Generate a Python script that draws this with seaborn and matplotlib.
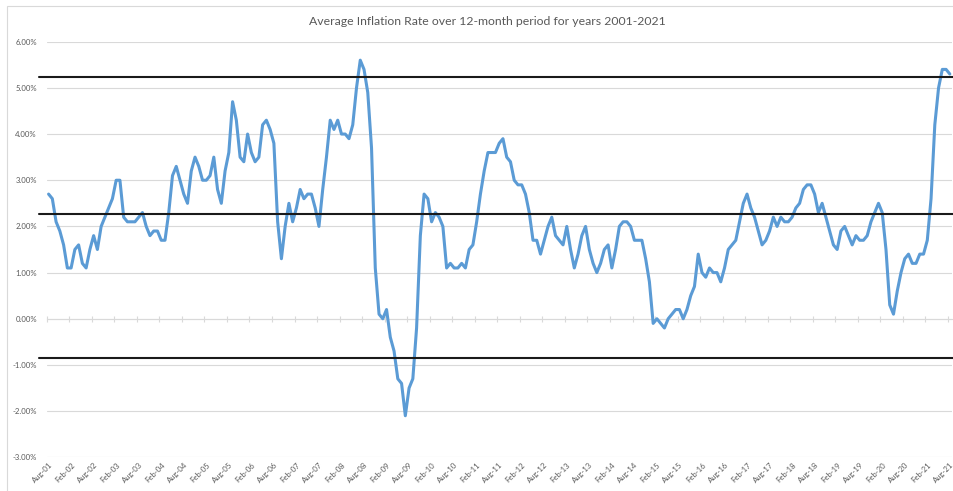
# Average 12-month inflation rate, Aug 2001 - Aug 2021 (Excel-style line chart)

import numpy as np
import pandas as pd
import matplotlib
matplotlib.use("Agg")
import matplotlib.pyplot as plt
from matplotlib.patches import Rectangle
import seaborn as sns

# monthly 12-month inflation rate (%), Aug-01 .. Aug-21
rate_2001 = [2.7, 2.6, 2.1, 1.9, 1.6]
rate_2002 = [1.1, 1.1, 1.5, 1.6, 1.2, 1.1, 1.5, 1.8, 1.5, 2.0, 2.2, 2.4]
rate_2003 = [2.6, 3.0, 3.0, 2.2, 2.1, 2.1, 2.1, 2.2, 2.3, 2.0, 1.8, 1.9]
rate_2004 = [1.9, 1.7, 1.7, 2.3, 3.1, 3.3, 3.0, 2.7, 2.5, 3.2, 3.5, 3.3]
rate_2005 = [3.0, 3.0, 3.1, 3.5, 2.8, 2.5, 3.2, 3.6, 4.7, 4.3, 3.5, 3.4]
rate_2006 = [4.0, 3.6, 3.4, 3.5, 4.2, 4.3, 4.1, 3.8, 2.1, 1.3, 2.0, 2.5]
rate_2007 = [2.1, 2.4, 2.8, 2.6, 2.7, 2.7, 2.4, 2.0, 2.8, 3.5, 4.3, 4.1]
rate_2008 = [4.3, 4.0, 4.0, 3.9, 4.2, 5.0, 5.6, 5.4, 4.9, 3.7, 1.1, 0.1]
rate_2009 = [0.0, 0.2, -0.4, -0.7, -1.3, -1.4, -2.1, -1.5, -1.3, -0.2, 1.8, 2.7]
rate_2010 = [2.6, 2.1, 2.3, 2.2, 2.0, 1.1, 1.2, 1.1, 1.1, 1.2, 1.1, 1.5]
rate_2011 = [1.6, 2.1, 2.7, 3.2, 3.6, 3.6, 3.6, 3.8, 3.9, 3.5, 3.4, 3.0]
rate_2012 = [2.9, 2.9, 2.7, 2.3, 1.7, 1.7, 1.4, 1.7, 2.0, 2.2, 1.8, 1.7]
rate_2013 = [1.6, 2.0, 1.5, 1.1, 1.4, 1.8, 2.0, 1.5, 1.2, 1.0, 1.2, 1.5]
rate_2014 = [1.6, 1.1, 1.5, 2.0, 2.1, 2.1, 2.0, 1.7, 1.7, 1.7, 1.3, 0.8]
rate_2015 = [-0.1, 0.0, -0.1, -0.2, 0.0, 0.1, 0.2, 0.2, 0.0, 0.2, 0.5, 0.7]
rate_2016 = [1.4, 1.0, 0.9, 1.1, 1.0, 1.0, 0.8, 1.1, 1.5, 1.6, 1.7, 2.1]
rate_2017 = [2.5, 2.7, 2.4, 2.2, 1.9, 1.6, 1.7, 1.9, 2.2, 2.0, 2.2, 2.1]
rate_2018 = [2.1, 2.2, 2.4, 2.5, 2.8, 2.9, 2.9, 2.7, 2.3, 2.5, 2.2, 1.9]
rate_2019 = [1.6, 1.5, 1.9, 2.0, 1.8, 1.6, 1.8, 1.7, 1.7, 1.8, 2.1, 2.3]
rate_2020 = [2.5, 2.3, 1.5, 0.3, 0.1, 0.6, 1.0, 1.3, 1.4, 1.2, 1.2, 1.4]
rate_2021 = [1.4, 1.7, 2.6, 4.2, 5.0, 5.4, 5.4, 5.3]

# horizontal reference lines (%)
upper_line = 5.24
middle_line = 2.26
lower_line = -0.84

rates = (rate_2001 + rate_2002 + rate_2003 + rate_2004 + rate_2005 + rate_2006
         + rate_2007 + rate_2008 + rate_2009 + rate_2010 + rate_2011 + rate_2012
         + rate_2013 + rate_2014 + rate_2015 + rate_2016 + rate_2017 + rate_2018
         + rate_2019 + rate_2020 + rate_2021)
months = pd.date_range("2001-08-01", periods=len(rates), freq="MS")
df = pd.DataFrame({"idx": np.arange(len(rates)), "rate": rates,
                   "label": months.strftime("%b-%y")})

sns.set_theme(style="white")
plt.rcParams["font.family"] = ["Lato", "DejaVu Sans"]

GRID = "#d9d9d9"
TXT = "#595959"

fig = plt.figure(figsize=(9.54, 4.91), dpi=100)
ax = fig.add_axes([46.7 / 954, 1 - 457.3 / 491, 905 / 954, (457.3 - 41.7) / 491])

sns.lineplot(data=df, x="idx", y="rate", ax=ax, color="#5b9bd5", linewidth=2.2,
             solid_joinstyle="round", solid_capstyle="round", zorder=3)

ymin, ymax = -3, 6
ax.set_ylim(ymin, ymax)
ax.set_xlim(-0.5, len(rates) - 0.5)
ax.set_yticks(np.arange(ymin, ymax + 1, 1))
ax.set_yticklabels([f"{v:.2f}%" for v in np.arange(ymin, ymax + 1, 1)])
ax.yaxis.grid(True, color=GRID, linewidth=0.8)
ax.set_axisbelow(True)

ticks = df["idx"][::6]
ax.set_xticks(ticks)
ax.set_xticklabels(df["label"][::6], rotation=45, ha="right", rotation_mode="anchor")
ax.tick_params(axis="x", length=0, pad=3, labelsize=5.6, labelcolor=TXT)
ax.tick_params(axis="y", length=0, pad=7, labelsize=5.6, labelcolor=TXT)
ax.set_xlabel("")
ax.set_ylabel("")
for s in ax.spines.values():
    s.set_visible(False)

# category axis crossing at 0%, tick marks between categories
sec = ax.secondary_xaxis((0 - ymin) / (ymax - ymin))
sec.set_xticks(np.arange(-0.5, len(rates) - 1, 6))
sec.set_xticklabels([])
sec.tick_params(axis="x", direction="inout", length=4, width=0.8, color=GRID)
sec.spines["bottom"].set_color(GRID)
sec.spines["bottom"].set_linewidth(0.8)

for level in [upper_line, middle_line, lower_line]:
    ax.axhline(level, xmin=-0.008, xmax=1.01, color="#1a1a1a", linewidth=1.5,
               clip_on=False, zorder=4)

fig.text(0.511, 0.956, "Average Inflation Rate over 12-month period for years 2001-2021",
         ha="center", va="center", fontsize=8.8, color=TXT)

fig.patches.append(Rectangle((7 / 954, -0.5), 2, 0.5 + 1 - 6 / 491, transform=fig.transFigure,
                             fill=False, edgecolor=GRID, linewidth=0.8))

fig.savefig("out.png", dpi=100)
